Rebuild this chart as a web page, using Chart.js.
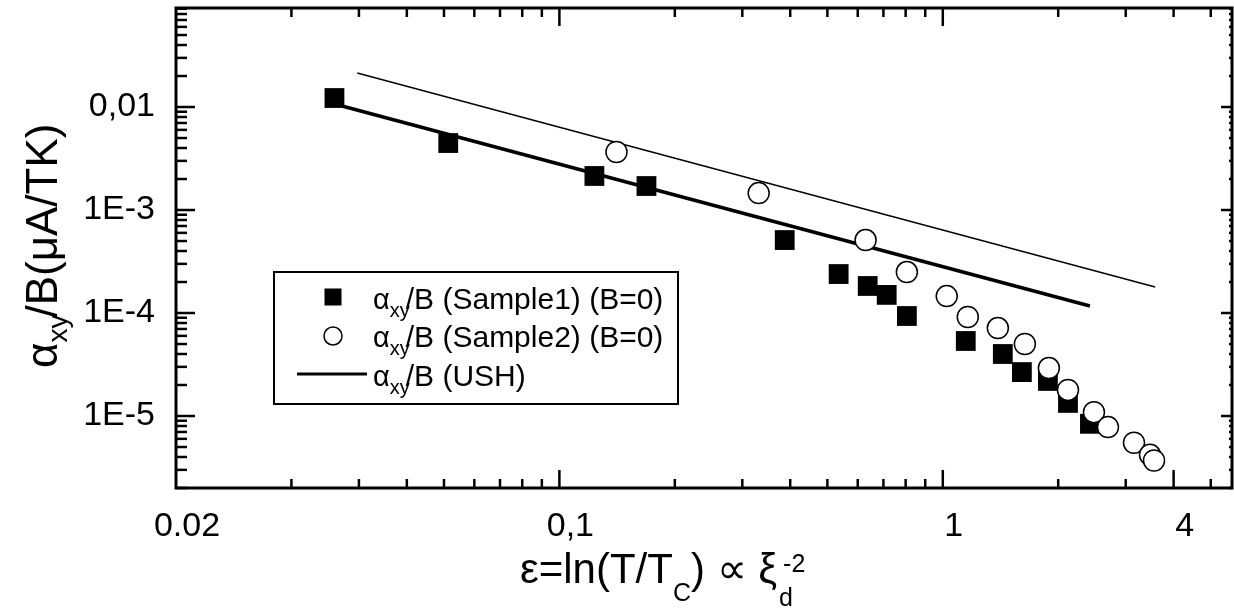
<!DOCTYPE html>
<html>
<head>
<meta charset="utf-8">
<script src="https://cdn.jsdelivr.net/npm/chart.js@4.4.0/dist/chart.umd.min.js"></script>
<style>
  html, body { margin: 0; padding: 0; background: #fff; }
  canvas { display: block; }
</style>
</head>
<body>
<canvas id="chart" width="1234" height="614"></canvas>
<script>
// DATA
const sample1Eps = [0.0259, 0.0513, 0.1234, 0.1687, 0.387, 0.535, 0.637, 0.714, 0.806, 1.148, 1.434, 1.608, 1.880, 2.121, 2.420];
const sample1Alpha = [0.01223, 0.00447, 0.00214, 0.00171, 5.11e-4, 2.39e-4, 1.83e-4, 1.50e-4, 9.35e-5, 5.35e-5, 4.00e-5, 2.67e-5, 2.19e-5, 1.34e-5, 8.4e-6];

const sample2Eps = [0.1409, 0.331, 0.629, 0.806, 1.024, 1.162, 1.392, 1.637, 1.891, 2.121, 2.479, 2.697, 3.153, 3.471, 3.556];
const sample2Alpha = [0.00366, 0.00146, 5.11e-4, 2.50e-4, 1.46e-4, 9.15e-5, 7.15e-5, 5.00e-5, 2.92e-5, 1.79e-5, 1.09e-5, 7.8e-6, 5.5e-6, 4.2e-6, 3.7e-6];

// USH lines: thick one (legend), thin one above it
const ushEps = [0.0271, 2.42];
const ushAlpha = [0.01023, 1.17e-4];
const ushThinEps = [0.0297, 3.58];
const ushThinAlpha = [0.0214, 1.79e-4];

// AXES
const xMin = 0.01, xMax = 5.68;
const yMin = 2e-6, yMax = 0.0915;
const xTickValues = [0.01, 0.1, 1, 4];
const xTickLabels = ["0.02", "0,1", "1", "4"];
const yTickValues = [1e-5, 1e-4, 1e-3, 0.01];
const yTickLabels = ["1E-5", "1E-4", "1E-3", "0,01"];
const xMinor = [0.02, 0.03, 0.04, 0.05, 0.06, 0.07, 0.08, 0.09, 0.2, 0.3, 0.4, 0.5, 0.6, 0.7, 0.8, 0.9, 2, 3, 5];
const yDecades = [1e-6, 1e-5, 1e-4, 1e-3, 1e-2];
const yMinor = [];
yDecades.forEach(d => [2, 3, 4, 5, 6, 7, 8, 9].forEach(m => yMinor.push(m * d)));

const FONT = "Arial, 'Liberation Sans', Helvetica, sans-serif";

const toPoints = (xs, ys) => xs.map((x, i) => ({ x, y: ys[i] }));

// draw a run of text pieces (sub/superscripts) starting at x,y
function drawRich(ctx, x, y, parts) {
    parts.forEach(p => {
        ctx.font = `${p.size}px ${FONT}`;
        ctx.fillText(p.t, x + (p.dx || 0), y + (p.dy || 0));
        x += (p.dx || 0) + ctx.measureText(p.t).width;
    });
    return x;
}

// FRAME + INWARD TICKS
const frame = {
    id: "frame",
    afterDraw(chart) {
        const { ctx, chartArea: a, scales: { x, y } } = chart;
        ctx.save();
        ctx.strokeStyle = "#000";
        ctx.lineWidth = 3;
        ctx.strokeRect(a.left, a.top, a.right - a.left, a.bottom - a.top);
        ctx.lineWidth = 2.5;
        const seg = (x1, y1, x2, y2) => { ctx.beginPath(); ctx.moveTo(x1, y1); ctx.lineTo(x2, y2); ctx.stroke(); };

        xMinor.forEach(v => {
            const px = x.getPixelForValue(v);
            seg(px, a.bottom, px, a.bottom - 9);
            seg(px, a.top, px, a.top + 9);
        });
        [0.1, 1, 4].forEach(v => {
            const px = x.getPixelForValue(v);
            seg(px, a.bottom, px, a.bottom - 18);
            seg(px, a.top, px, a.top + (v === 4 ? 9 : 18));
        });
        yMinor.forEach(v => {
            if (v > yMax) return;
            const py = y.getPixelForValue(v);
            seg(a.left, py, a.left + 11, py);
            seg(a.right, py, a.right - 3, py);
        });
        yTickValues.forEach(v => {
            const py = y.getPixelForValue(v);
            seg(a.left, py, a.left + 19, py);
            seg(a.right, py, a.right - 11, py);
        });
        ctx.restore();
    }
};

// AXIS TITLES
const titles = {
    id: "titles",
    afterDraw(chart) {
        const ctx = chart.ctx;
        ctx.save();
        ctx.fillStyle = "#000";
        ctx.textBaseline = "alphabetic";

        // x title
        let xe = drawRich(ctx, 520, 583, [
            { t: "\u03b5=ln(T/T", size: 42 },
            { t: "C", size: 25, dy: 18 },
            { t: ") \u221d \u03be", size: 42 }
        ]);
        ctx.font = `25px ${FONT}`;
        ctx.fillText("d", xe + 2, 606);
        ctx.fillText("-2", xe + 6, 572);

        // y title
        ctx.translate(57, 368);
        ctx.rotate(-Math.PI / 2);
        drawRich(ctx, 0, 0, [
            { t: "\u03b1", size: 44 },
            { t: "xy", size: 28, dy: 10 },
            { t: "/B(\u03bcA/TK)", size: 44, dx: -3 }
        ]);
        ctx.restore();
    }
};

// LEGEND BOX
const legendRows = ["/B (Sample1) (B=0)", "/B (Sample2) (B=0)", "/B (USH)"];
const legendBox = {
    id: "legendBox",
    afterDraw(chart) {
        const ctx = chart.ctx;
        ctx.save();
        ctx.fillStyle = "#fff";
        ctx.fillRect(274, 272, 404, 132);
        ctx.strokeStyle = "#000";
        ctx.lineWidth = 2;
        ctx.strokeRect(274, 272, 404, 132);

        // markers
        ctx.fillStyle = "#000";
        ctx.fillRect(333 - 8.5, 297 - 8.5, 17, 17);
        ctx.lineWidth = 1.5;
        ctx.beginPath();
        ctx.arc(333, 336, 9, 0, Math.PI * 2);
        ctx.stroke();
        ctx.lineWidth = 3;
        ctx.beginPath();
        ctx.moveTo(297, 374);
        ctx.lineTo(367, 374);
        ctx.stroke();

        const baselines = [309, 347, 386];
        legendRows.forEach((t, i) => {
            drawRich(ctx, 373, baselines[i], [
                { t: "\u03b1", size: 29 },
                { t: "xy", size: 20, dy: 8 },
                { t, size: 30, dx: -4 }
            ]);
        });
        ctx.restore();
    }
};

const noPad = s => { s.paddingTop = 0; s.paddingBottom = 0; s.paddingLeft = 0; s.paddingRight = 0; };

new Chart(document.getElementById("chart"), {
    type: "scatter",
    data: {
        datasets: [
            {
                label: "Sample2",
                data: toPoints(sample2Eps, sample2Alpha),
                pointStyle: "circle",
                pointRadius: 10.5,
                pointBackgroundColor: "#fff",
                pointBorderColor: "#000",
                pointBorderWidth: 1.5
            },
            {
                label: "Sample1",
                data: toPoints(sample1Eps, sample1Alpha),
                pointStyle: "rect",
                pointRadius: 14,
                pointBackgroundColor: "#000",
                pointBorderColor: "#000",
                pointBorderWidth: 0
            },
            {
                label: "USH",
                data: toPoints(ushEps, ushAlpha),
                showLine: true,
                pointRadius: 0,
                borderColor: "#000",
                borderWidth: 3.5
            },
            {
                label: "USH thin",
                data: toPoints(ushThinEps, ushThinAlpha),
                showLine: true,
                pointRadius: 0,
                borderColor: "#000",
                borderWidth: 1.4
            }
        ]
    },
    options: {
        responsive: false,
        animation: false,
        devicePixelRatio: 1,
        layout: { autoPadding: false, padding: { top: 8, right: 2, left: 0, bottom: 0 } },
        plugins: { legend: { display: false }, tooltip: { enabled: false } },
        scales: {
            x: {
                type: "logarithmic",
                min: xMin,
                max: xMax,
                grid: { display: false, drawTicks: false },
                border: { display: false },
                afterBuildTicks: s => { s.ticks = xTickValues.map(v => ({ value: v })); },
                afterFit: s => { s.height = 126; noPad(s); },
                ticks: {
                    autoSkip: false, maxRotation: 0, minRotation: 0,
                    padding: 18, labelOffset: 11, color: "#000",
                    font: { family: FONT, size: 34 },
                    callback: v => { const i = xTickValues.indexOf(v); return i < 0 ? "" : xTickLabels[i]; }
                }
            },
            y: {
                type: "logarithmic",
                min: yMin,
                max: yMax,
                grid: { display: false, drawTicks: false },
                border: { display: false },
                afterBuildTicks: s => { s.ticks = yTickValues.map(v => ({ value: v })); },
                afterFit: s => { s.width = 176; noPad(s); },
                ticks: {
                    autoSkip: false, padding: 21, color: "#000",
                    font: { family: FONT, size: 34 },
                    callback: v => { const i = yTickValues.indexOf(v); return i < 0 ? "" : yTickLabels[i]; }
                }
            }
        }
    },
    plugins: [frame, titles, legendBox]
});
</script>
</body>
</html>
